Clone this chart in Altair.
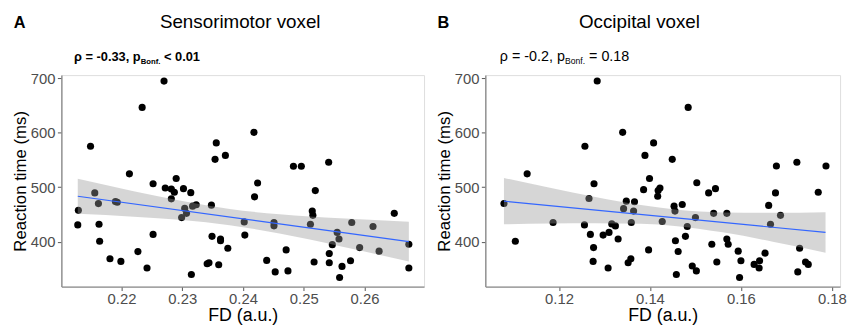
import altair as alt
import pandas as pd

FONT = "Liberation Sans"

# ---------------- data ----------------
# Panel A: Sensorimotor voxel
sm_fd = [0.2270, 0.2234, 0.2149, 0.2213, 0.2252, 0.2290, 0.2272, 0.2282, 0.2287, 0.2302, 0.2314, 0.2282,
         0.2156, 0.2162, 0.2190, 0.2193, 0.2129, 0.2128, 0.2163, 0.2164, 0.2252, 0.2181, 0.2199, 0.2227,
         0.2242, 0.2315, 0.2304, 0.2307, 0.2299, 0.2317, 0.2323, 0.2356, 0.2354, 0.2371, 0.2348, 0.2349,
         0.2363, 0.2363, 0.2375, 0.2341, 0.2344, 0.2360, 0.2402, 0.2403,
         0.2418, 0.2424, 0.2419, 0.2451, 0.2451, 0.2471, 0.2439, 0.2453, 0.2474, 0.2483, 0.2496, 0.2541,
         0.2519, 0.2514, 0.2515, 0.2511, 0.2517, 0.2542, 0.2542, 0.2547, 0.2555, 0.2558, 0.2563, 0.2559,
         0.2577, 0.2579, 0.2592, 0.2614, 0.2624, 0.2649, 0.2673, 0.2673]
sm_rt = [695, 646.7, 575.4, 524.6, 506.5, 516, 498.6, 496.7, 490.7, 497.4, 490, 478.7,
         489.6, 470, 473.8, 472.5, 457.5, 430.8, 432, 400.7, 413.4, 368.6, 363.7, 381.8,
         351.7, 339.6, 461.1, 452, 444.2, 465.3, 467.8, 581.4, 551.2, 558.5, 467.1, 409.8,
         404.9, 401.8, 388, 359.5, 361.3, 357.7, 436.3, 412.1,
         600.8, 507.7, 482.3, 435.2, 429.1, 384.9, 365.6, 344.5, 346.3, 538.6, 538.6, 545.8,
         493.8, 456.2, 448.4, 432.1, 362.6, 378.2, 361.3, 394.5, 417, 404.9, 354.6, 334.1,
         365, 435.2, 389.1, 427.9, 382.6, 452, 395.3, 351.7]
sm_line_fd = [0.2128, 0.2673]
sm_line_rt = [483.4, 400.0]
sm_band_fd = [0.2128, 0.222, 0.230, 0.2378, 0.246, 0.256, 0.2673]
sm_band_hi = [515.4, 492.6, 474.5, 460.1, 450.2, 442.8, 436.6]
sm_band_lo = [451.4, 446.0, 439.7, 430.1, 415.0, 391.8, 363.4]
sm_ticks = [0.22, 0.23, 0.24, 0.25, 0.26]

# Panel B: Occipital voxel
oc_fd = [0.1284, 0.1340, 0.1257, 0.1408, 0.1389, 0.1449, 0.1130, 0.1277, 0.1399, 0.1386, 0.1422, 0.1418,
         0.1417, 0.1266, 0.1079, 0.1348, 0.1366, 0.1342, 0.1364, 0.1359, 0.1427, 0.1187, 0.1256, 0.1316,
         0.1324, 0.1269, 0.1297, 0.1310, 0.1330, 0.1104, 0.1276, 0.1397, 0.1275, 0.1308, 0.1352, 0.1358,
         0.1453, 0.1455, 0.1456, 0.1458,
         0.1484, 0.1503, 0.1529, 0.1544, 0.1471, 0.1500, 0.1482, 0.1540, 0.1569, 0.1478, 0.1462, 0.1536,
         0.1569, 0.1572, 0.1493, 0.1502, 0.1547, 0.1594, 0.1600, 0.1597, 0.1629, 0.1641, 0.1640, 0.1653,
         0.1661, 0.1676, 0.1678, 0.1665, 0.1687, 0.1723, 0.1770, 0.1787, 0.1729, 0.1725, 0.1742, 0.1748]
oc_rt = [695.1, 600.8, 575.4, 581.4, 558.5, 551.2, 524.6, 506.5, 516, 495.6, 498.6, 493.8,
         483.4, 479.3, 470.2, 474.4, 473.3, 460.6, 456.2, 435.2, 437, 435.2, 430.8, 432.6,
         429, 413.4, 412.1, 417, 404.9, 400.7, 389.1, 384.9, 363.7, 351.7, 361.3, 368.6,
         465.3, 456.2, 401.8, 339.6,
         646.7, 508.3, 489.6, 497.4, 468.3, 444.2, 427.9, 452, 452, 409.8, 381.9, 395.3,
         404.9, 395.3, 355.3, 346.3, 362.6, 382.6, 365, 334.1, 358.2, 365, 351.7, 378.9,
         466.6, 489.6, 539.1, 432.1, 448.4, 545.8, 490.7, 539.1, 388, 344.5, 362.6, 358.2]
oc_line_fd = [0.1079, 0.1786]
oc_line_rt = [474.4, 417.0]
oc_band_fd = [0.1079, 0.118, 0.128, 0.138, 0.146, 0.156, 0.167, 0.1786]
oc_band_hi = [517.0, 499.1, 482.2, 467.2, 458.5, 453.7, 453.1, 454.2]
oc_band_lo = [431.8, 433.3, 434.0, 432.8, 428.5, 417.1, 399.9, 379.8]
oc_ticks = [0.12, 0.14, 0.16, 0.18]

rt_ticks = [400, 500, 600, 700]
rt_domain = [317.5, 706]

PLOT_H = 214


def text_layer(txt, x, y, size, weight="normal", align="left"):
    return alt.Chart(pd.DataFrame({"t": [txt]})).mark_text(
        align=align, baseline="alphabetic", font=FONT, fontSize=size,
        fontWeight=weight, color="black"
    ).encode(x=alt.value(x), y=alt.value(y), text="t:N")


def panel(fd, rt, line_fd, line_rt, band_fd, band_lo, band_hi, xdom, xticks, width,
          letter, title, title_x, ann):
    xsc = alt.Scale(domain=xdom, nice=False, zero=False)
    ysc = alt.Scale(domain=rt_domain, nice=False, zero=False)
    xax = alt.Axis(values=xticks, format=".2f", title="FD (a.u.)", grid=False,
                   domainColor="#8c8c8c", domainWidth=1.4, tickColor="#555555", tickSize=4,
                   labelPadding=1, labelFontSize=15, labelColor="#4d4d4d", labelFont=FONT,
                   titleFont=FONT, titleFontSize=18, titleFontWeight="normal", titleColor="black",
                   titlePadding=0)
    yax = alt.Axis(values=rt_ticks, title="Reaction time (ms)", grid=False,
                   domainColor="#8c8c8c", domainWidth=1.4, tickColor="#555555", tickSize=4,
                   labelPadding=2.5, labelFontSize=15, labelColor="#4d4d4d", labelFont=FONT,
                   titleFont=FONT, titleFontSize=17, titleFontWeight="normal", titleColor="black",
                   titlePadding=1)
    pts = alt.Chart(pd.DataFrame({"fd": fd, "rt": rt})).mark_circle(
        size=52, color="black", opacity=1
    ).encode(x=alt.X("fd:Q", scale=xsc, axis=xax), y=alt.Y("rt:Q", scale=ysc, axis=yax))
    band = alt.Chart(pd.DataFrame({"fd": band_fd, "lo": band_lo, "hi": band_hi})).mark_area(
        color="#999999", opacity=0.4, interpolate="monotone"
    ).encode(x=alt.X("fd:Q", scale=xsc), y=alt.Y("lo:Q", scale=ysc), y2="hi:Q")
    line = alt.Chart(pd.DataFrame({"fd": line_fd, "rt": line_rt})).mark_line(
        color="#3366FF", strokeWidth=1.2
    ).encode(x=alt.X("fd:Q", scale=xsc), y=alt.Y("rt:Q", scale=ysc))
    layers = [pts, band, line,
              text_layer(letter, -48.3, -47.3, 16.5, "bold"),
              text_layer(title, title_x, -47.3, 19, "normal", "center")]
    for (t, x, y, s, w) in ann:
        layers.append(text_layer(t, x, y, s, w))
    return alt.layer(*layers).properties(width=width, height=PLOT_H)


left = panel(sm_fd, sm_rt, sm_line_fd, sm_line_rt, sm_band_fd, sm_band_lo, sm_band_hi,
             [0.2101, 0.2698], sm_ticks, 367, "A", "Sensorimotor voxel", 181,
             [("ρ = -0.33, p", 12.7, -14.5, 13, "bold"),
              ("Bonf.", 80.3, -11, 7.8, "bold"),
              ("< 0.01", 103.8, -14.5, 13, "bold")])

right = panel(oc_fd, oc_rt, oc_line_fd, oc_line_rt, oc_band_fd, oc_band_lo, oc_band_hi,
              [0.1038, 0.1818], oc_ticks, 359, "B", "Occipital voxel", 156,
              [("ρ = -0.2, p", 14.7, -14.5, 14.5, "normal"),
               ("Bonf.", 80.7, -11, 8.7, "normal"),
               ("= 0.18", 105, -14.5, 14.5, "normal")])

chart = alt.hconcat(left, right, spacing=9).properties(
    padding={"left": 2, "top": 3, "right": 0, "bottom": 0}
).configure_view(stroke=None).configure(font=FONT)

chart.save("out.html", embed_options={"renderer": "svg", "actions": False})
